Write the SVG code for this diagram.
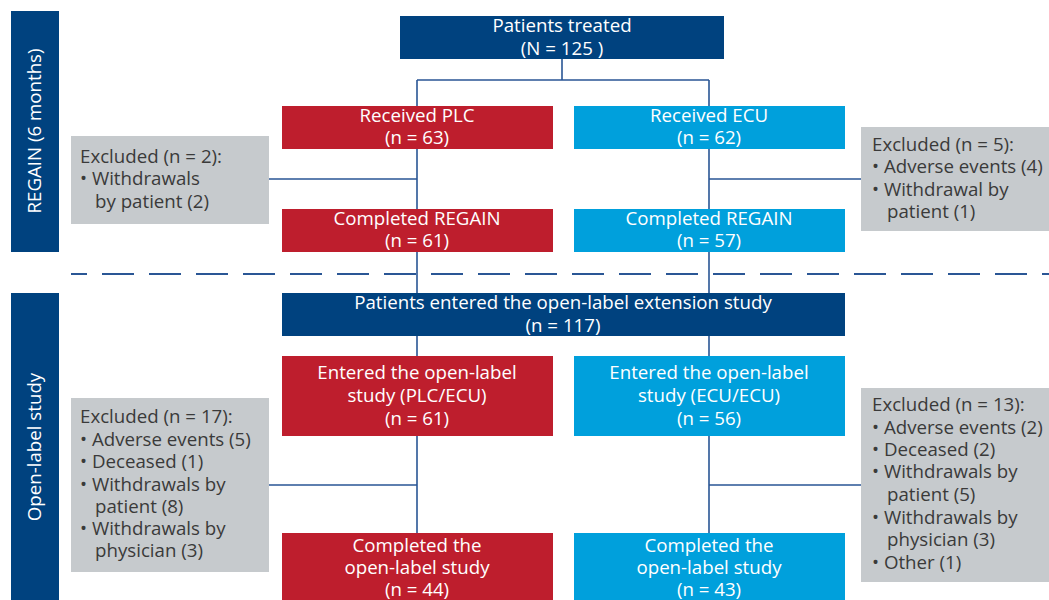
<svg xmlns="http://www.w3.org/2000/svg" width="1049" height="600" viewBox="0 0 1049 600">
<style>
text{font-family:"Open Sans","Liberation Sans",sans-serif;font-size:18.7px}
.w{fill:#ffffff;text-anchor:middle}
.g{fill:#3a3a3a}
.dk{fill:#00427f}
.rd{fill:#be1e2d}
.lb{fill:#00a0dc}
.gy{fill:#c6cacd}
.ln{stroke:#2a5695;stroke-width:1.6;fill:none}
</style>
<rect width="1049" height="600" fill="#ffffff"/>
<g id="connectors">
<path class="ln" d="M562 59V80M417 80H709M417 80V533M709 80V533M269 179H417M709 179H861M269 485H417M709 485H861"/>
<line x1="71" y1="274" x2="1049" y2="274" stroke="#2a5695" stroke-width="2" stroke-dasharray="32 15" stroke-dashoffset="16"/>
</g>
<g id="label-regain">
<rect class="dk" x="11" y="11" width="48" height="241"/>
<text class="w" transform="translate(41,131) rotate(-90)">REGAIN (6 months)</text>
</g>
<g id="label-open">
<rect class="dk" x="11" y="293" width="48" height="307"/>
<text class="w" transform="translate(41,447) rotate(-90)">Open-label study</text>
</g>
<g id="patients-treated">
<rect class="dk" x="400" y="16" width="324" height="43"/>
<text class="w" x="562" y="32">Patients treated</text>
<text class="w" x="562" y="55">(N = 125 )</text>
</g>
<g id="received-plc">
<rect class="rd" x="282" y="106" width="271" height="43"/>
<text class="w" x="417" y="122">Received PLC</text>
<text class="w" x="417" y="144">(n = 63)</text>
</g>
<g id="received-ecu">
<rect class="lb" x="574" y="106" width="271" height="43"/>
<text class="w" x="709" y="122">Received ECU</text>
<text class="w" x="709" y="144">(n = 62)</text>
</g>
<g id="completed-plc">
<rect class="rd" x="282" y="209" width="271" height="43"/>
<text class="w" x="417" y="225">Completed REGAIN</text>
<text class="w" x="417" y="247">(n = 61)</text>
</g>
<g id="completed-ecu">
<rect class="lb" x="574" y="209" width="271" height="43"/>
<text class="w" x="709" y="225">Completed REGAIN</text>
<text class="w" x="709" y="247">(n = 57)</text>
</g>
<g id="excluded-1">
<rect class="gy" x="71" y="136" width="198" height="88"/>
<text class="g" x="80" y="163">Excluded (n = 2):</text>
<text class="g" x="80" y="185">• Withdrawals</text>
<text class="g" x="95" y="208">by patient (2)</text>
</g>
<g id="excluded-2">
<rect class="gy" x="861" y="127" width="188" height="104"/>
<text class="g" x="872" y="151">Excluded (n = 5):</text>
<text class="g" x="872" y="173">• Adverse events (4)</text>
<text class="g" x="872" y="196">• Withdrawal by</text>
<text class="g" x="887" y="218">patient (1)</text>
</g>
<g id="entered-ole">
<rect class="dk" x="282" y="293" width="563" height="43"/>
<text class="w" x="563" y="309">Patients entered the open-label extension study</text>
<text class="w" x="563" y="332">(n = 117)</text>
</g>
<g id="entered-plc">
<rect class="rd" x="282" y="356" width="271" height="80"/>
<text class="w" x="417" y="379">Entered the open-label</text>
<text class="w" x="417" y="402">study (PLC/ECU)</text>
<text class="w" x="417" y="425">(n = 61)</text>
</g>
<g id="entered-ecu">
<rect class="lb" x="574" y="356" width="271" height="80"/>
<text class="w" x="709" y="379">Entered the open-label</text>
<text class="w" x="709" y="402">study (ECU/ECU)</text>
<text class="w" x="709" y="425">(n = 56)</text>
</g>
<g id="excluded-3">
<rect class="gy" x="71" y="398" width="198" height="174"/>
<text class="g" x="80" y="423">Excluded (n = 17):</text>
<text class="g" x="80" y="446">• Adverse events (5)</text>
<text class="g" x="80" y="468">• Deceased (1)</text>
<text class="g" x="80" y="491">• Withdrawals by</text>
<text class="g" x="95" y="513">patient (8)</text>
<text class="g" x="80" y="535">• Withdrawals by</text>
<text class="g" x="95" y="557">physician (3)</text>
</g>
<g id="excluded-4">
<rect class="gy" x="861" y="388" width="188" height="194"/>
<text class="g" x="872" y="411">Excluded (n = 13):</text>
<text class="g" x="872" y="434">• Adverse events (2)</text>
<text class="g" x="872" y="456">• Deceased (2)</text>
<text class="g" x="872" y="478">• Withdrawals by</text>
<text class="g" x="887" y="501">patient (5)</text>
<text class="g" x="872" y="524">• Withdrawals by</text>
<text class="g" x="887" y="546">physician (3)</text>
<text class="g" x="872" y="569">• Other (1)</text>
</g>
<g id="completed-ole-plc">
<rect class="rd" x="282" y="533" width="271" height="67"/>
<text class="w" x="417" y="552">Completed the</text>
<text class="w" x="417" y="574">open-label study</text>
<text class="w" x="417" y="596">(n = 44)</text>
</g>
<g id="completed-ole-ecu">
<rect class="lb" x="574" y="533" width="271" height="67"/>
<text class="w" x="709" y="552">Completed the</text>
<text class="w" x="709" y="574">open-label study</text>
<text class="w" x="709" y="596">(n = 43)</text>
</g>
</svg>
